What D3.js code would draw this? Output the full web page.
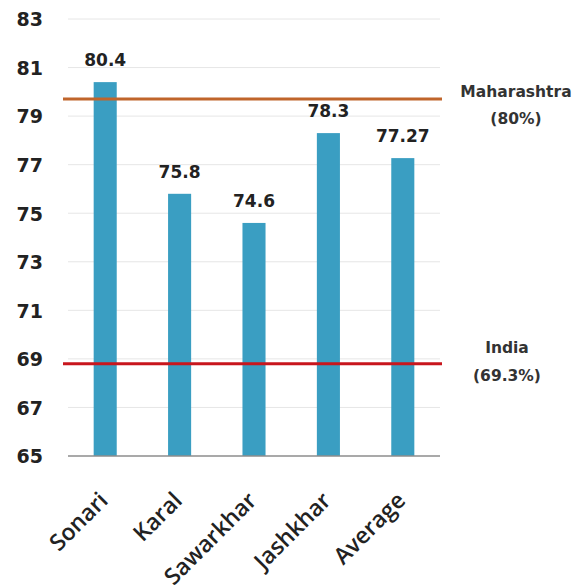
<!DOCTYPE html>
<html><head><meta charset="utf-8">
<script src="https://cdn.jsdelivr.net/npm/d3@7"></script>
<style>body{margin:0;background:#fff}svg{display:block}</style>
</head><body>
<svg id="chart" width="577" height="586"></svg>
<script>
const categories = ["Sonari", "Karal", "Sawarkhar", "Jashkhar", "Average"];
const values = [80.4, 75.8, 74.6, 78.3, 77.27];
const valueLabels = ["80.4", "75.8", "74.6", "78.3", "77.27"];
const yTicks = [65, 67, 69, 71, 73, 75, 77, 79, 81, 83];
const refNames = ["Maharashtra", "India"];
const refPercents = ["(80%)", "(69.3%)"];
const refValues = [79.7, 68.8];
const refColors = ["#c0652b", "#c8161d"];

const svg = d3.select("#chart");
const x = d3.scaleBand().domain(categories).range([68, 440]).paddingInner(0.69).paddingOuter(0.345);
const y = d3.scaleLinear().domain([65, 83]).range([456, 19]);
const font = "DejaVu Sans, sans-serif";

// gridlines
svg.append("g").selectAll("line").data(yTicks.slice(1)).join("line")
  .attr("x1", 68).attr("x2", 440)
  .attr("y1", d => y(d)).attr("y2", d => y(d))
  .attr("stroke", "#e6e6e6").attr("stroke-width", 1);

// y axis labels
const yAxis = d3.axisLeft(y).tickValues(yTicks).tickSize(0).tickPadding(0);
const ya = svg.append("g").attr("transform", "translate(43,0)").call(yAxis);
ya.select(".domain").remove();
ya.selectAll("text").attr("font-family", font).attr("font-weight", "bold")
  .attr("font-size", 19).attr("fill", "#222").attr("dy", "0.36em");

// bars
svg.append("g").selectAll("rect").data(values).join("rect")
  .attr("x", (d, i) => x(categories[i]))
  .attr("width", x.bandwidth())
  .attr("y", d => y(d))
  .attr("height", d => y(65) - y(d))
  .attr("fill", "#3a9ec2");

// x axis line
svg.append("line").attr("x1", 68).attr("x2", 440).attr("y1", y(65)).attr("y2", y(65))
  .attr("stroke", "#8c8c8c").attr("stroke-width", 1.5);

// value labels
svg.append("g").selectAll("text").data(values).join("text")
  .attr("x", (d, i) => x(categories[i]) + x.bandwidth() / 2)
  .attr("y", d => y(d) - 16)
  .attr("text-anchor", "middle")
  .attr("font-family", font).attr("font-weight", "bold").attr("font-size", 17)
  .attr("fill", "#222")
  .text((d, i) => valueLabels[i]);

// reference lines
svg.append("g").selectAll("line").data(refValues).join("line")
  .attr("x1", 63).attr("x2", 442)
  .attr("y1", d => y(d)).attr("y2", d => y(d))
  .attr("stroke", (d, i) => refColors[i]).attr("stroke-width", 3);

// reference annotations
const refPos = [{cx: 516, dy: -2, gap: 27}, {cx: 507, dy: -11, gap: 28}];
refNames.forEach((n, i) => {
  const g = svg.append("g");
  g.append("text").attr("x", refPos[i].cx).attr("y", y(refValues[i]) + refPos[i].dy)
    .attr("text-anchor", "middle").attr("font-family", font).attr("font-weight", "bold")
    .attr("font-size", 15.5).attr("fill", "#333").text(n);
  g.append("text").attr("x", refPos[i].cx).attr("y", y(refValues[i]) + refPos[i].dy + refPos[i].gap)
    .attr("text-anchor", "middle").attr("font-family", font).attr("font-weight", "bold")
    .attr("font-size", 15.5).attr("fill", "#333").text(refPercents[i]);
});

// category labels
svg.append("g").selectAll("text").data(categories).join("text")
  .attr("transform", d => `translate(${x(d) + x.bandwidth() / 2 + 4},${y(65) + 46}) rotate(-45)`)
  .attr("text-anchor", "end")
  .attr("font-family", "Open Sans, sans-serif").attr("font-weight", 600)
  .attr("font-size", 23).attr("fill", "#222")
  .text(d => d);
</script>
</body></html>
